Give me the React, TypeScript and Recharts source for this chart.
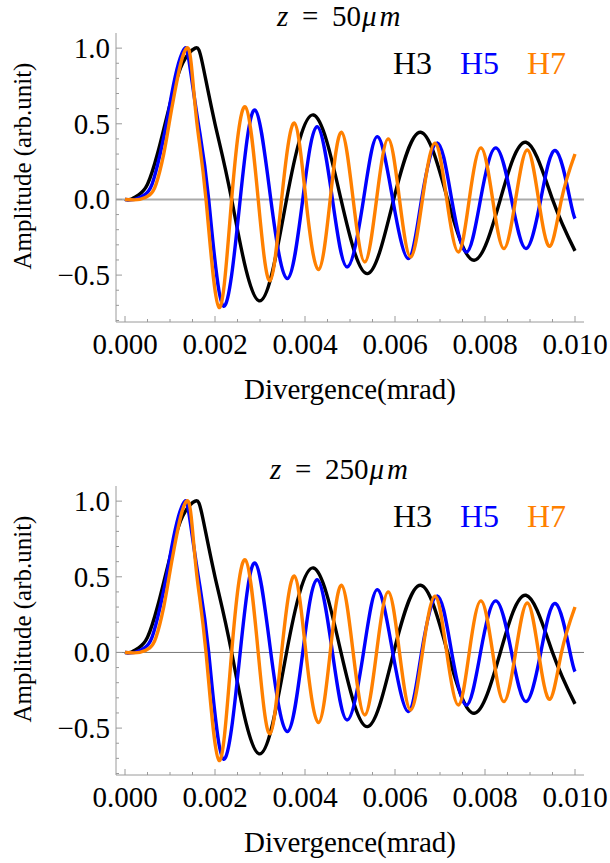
import React from 'react'
import { LineChart, Line, XAxis, YAxis, ReferenceLine } from 'recharts'

// values: extrema, zero crossings and a few points around the first peak
const h3Div = [0, 0.00012, 0.0003, 0.0005, 0.00072, 0.00089, 0.00106, 0.00128, 0.00156, 0.00172, 0.002, 0.00237, 0.00298, 0.00359, 0.00419, 0.0048, 0.00539, 0.00597, 0.00657, 0.00717, 0.00776, 0.00834, 0.00891, 0.0095, 0.01]
const h3Amp = [0, 0, 0.03, 0.1, 0.3, 0.5, 0.7, 0.9, 1.0, 0.9, 0.5, 0, -0.67, 0, 0.558, 0, -0.49, 0, 0.444, 0, -0.402, 0, 0.378, 0, -0.34]

const h5Div = [0, 0.00022, 0.00043, 0.0006, 0.00078, 0.00092, 0.00104, 0.00119, 0.00133, 0.00143, 0.00163, 0.00186, 0.00219, 0.00256, 0.00289, 0.00324, 0.00361, 0.00395, 0.00427, 0.00461, 0.00494, 0.0053, 0.00561, 0.00595, 0.0063, 0.00659, 0.00694, 0.00726, 0.00759, 0.0079, 0.00824, 0.00859, 0.00891, 0.00924, 0.00957, 0.00989, 0.01]
const h5Amp = [0, 0, 0.03, 0.1, 0.3, 0.5, 0.7, 0.9, 1.0, 0.9, 0.5, 0, -0.705, 0, 0.591, 0, -0.523, 0, 0.481, 0, -0.446, 0, 0.415, 0, -0.391, 0, 0.374, 0, -0.347, 0, 0.341, 0, -0.325, 0, 0.323, 0, -0.127]

const h7Div = [0, 0.00033, 0.00055, 0.00069, 0.00086, 0.00098, 0.0011, 0.00124, 0.00137, 0.00147, 0.0016, 0.0018, 0.00209, 0.00237, 0.00267, 0.00296, 0.00322, 0.00348, 0.00376, 0.00402, 0.0043, 0.00456, 0.00481, 0.00507, 0.00533, 0.00559, 0.00585, 0.0061, 0.00635, 0.00661, 0.00689, 0.00715, 0.00741, 0.00765, 0.00791, 0.00817, 0.00842, 0.00868, 0.00894, 0.00919, 0.00944, 0.0097, 0.01]
const h7Amp = [0, 0, 0.03, 0.1, 0.3, 0.5, 0.7, 0.9, 1.0, 0.9, 0.5, 0, -0.714, 0, 0.613, 0, -0.538, 0, 0.505, 0, -0.464, 0, 0.444, 0, -0.413, 0, 0.4, 0, -0.38, 0, 0.371, 0, -0.347, 0, 0.341, 0, -0.325, 0, 0.327, 0, -0.31, 0, 0.3]

const seriesNames = ['H3', 'H5', 'H7']
const seriesColors = ['#000000', '#0000ff', '#ff8000']

const xTicks = [0, 0.0005, 0.001, 0.0015, 0.002, 0.0025, 0.003, 0.0035, 0.004, 0.0045, 0.005, 0.0055, 0.006, 0.0065, 0.007, 0.0075, 0.008, 0.0085, 0.009, 0.0095, 0.01]
const yTicks = [-0.8, -0.7, -0.6, -0.5, -0.4, -0.3, -0.2, -0.1, 0, 0.1, 0.2, 0.3, 0.4, 0.5, 0.6, 0.7, 0.8, 0.9, 1.0]

const panelDistances = ['50', '250']

const FONT = '"Liberation Serif", "Times New Roman", serif'
const FRAME = '#9a9a9a'

const zip = (xs: number[], ys: number[]) => xs.map((x, i) => ({ x, y: ys[i] }))
const seriesData = [zip(h3Div, h3Amp), zip(h5Div, h5Amp), zip(h7Div, h7Amp)]

const isStep = (v: number, step: number) => {
  const r = v / step
  return Math.abs(r - Math.round(r)) < 1e-6
}

const fmtY = (v: number) => (v < 0 ? '\u2212' + Math.abs(v).toFixed(1) : v.toFixed(1))

const BottomTick = (props: any) => {
  const { x, y, payload } = props
  const major = isStep(payload.value, 0.002)
  return (
    <g>
      <line x1={x} y1={y} x2={x} y2={y - (major ? 6 : 3)} stroke={FRAME} />
      {major && (
        <text x={x} y={y + 32} textAnchor="middle" fontSize={29} fontFamily={FONT} fill="#000">
          {payload.value.toFixed(3)}
        </text>
      )}
    </g>
  )
}

const TopTick = (props: any) => {
  const { x, y, payload } = props
  const major = isStep(payload.value, 0.002)
  return <line x1={x} y1={y} x2={x} y2={y + (major ? 6 : 3)} stroke={FRAME} />
}

const LeftTick = (props: any) => {
  const { x, y, payload } = props
  const major = isStep(payload.value, 0.5)
  return (
    <g>
      <line x1={x} y1={y} x2={x + (major ? 6 : 3)} y2={y} stroke={FRAME} />
      {major && (
        <text x={x - 6} y={y + 10} textAnchor="end" fontSize={29} fontFamily={FONT} fill="#000">
          {fmtY(payload.value)}
        </text>
      )}
    </g>
  )
}

const RightTick = (props: any) => {
  const { x, y, payload } = props
  const major = isStep(payload.value, 0.5)
  return <line x1={x} y1={y} x2={x - (major ? 6 : 3)} y2={y} stroke={FRAME} />
}

function Panel({ top, height, dist, titleX, zeroColor, zeroWidth }: any) {
  const plotTop = 33
  const plotBottom = plotTop + 289
  const digitsW = dist.length * 14.5
  return (
    <div style={{ position: 'absolute', left: 0, top, width: 610, height }}>
      <LineChart width={610} height={height} margin={{ top: plotTop, right: 26, bottom: 0, left: 0 }}>
        <XAxis
          dataKey="x"
          type="number"
          domain={[-0.0002, 0.0102]}
          ticks={xTicks}
          interval={0}
          allowDataOverflow
          height={height - plotBottom}
          tick={BottomTick}
          tickSize={0}
          tickMargin={0}
          tickLine={false}
          axisLine={{ stroke: FRAME }}
        />
        <XAxis
          xAxisId="top"
          orientation="top"
          type="number"
          domain={[-0.0002, 0.0102]}
          ticks={xTicks}
          interval={0}
          allowDataOverflow
          height={0}
          tick={TopTick}
          tickSize={0}
          tickMargin={0}
          tickLine={false}
          axisLine={{ stroke: FRAME }}
        />
        <YAxis
          type="number"
          domain={[-0.81, 1.1]}
          ticks={yTicks}
          interval={0}
          allowDataOverflow
          width={116}
          tick={LeftTick}
          tickSize={0}
          tickMargin={0}
          tickLine={false}
          axisLine={{ stroke: FRAME }}
        />
        <YAxis
          yAxisId="right"
          orientation="right"
          type="number"
          domain={[-0.81, 1.1]}
          ticks={yTicks}
          interval={0}
          allowDataOverflow
          width={0}
          tick={RightTick}
          tickSize={0}
          tickMargin={0}
          tickLine={false}
          axisLine={{ stroke: FRAME }}
        />
        <ReferenceLine y={0} stroke={zeroColor} strokeWidth={zeroWidth} />
        {seriesData.map((d, i) => (
          <Line
            key={seriesNames[i]}
            data={d}
            dataKey="y"
            name={seriesNames[i]}
            type="natural"
            stroke={seriesColors[i]}
            strokeWidth={3.4}
            dot={false}
            activeDot={false}
            isAnimationActive={false}
          />
        ))}
      </LineChart>
      <svg width={610} height={height} style={{ position: 'absolute', left: 0, top: 0, pointerEvents: 'none', overflow: 'visible' }}>
        <text y={26} fontSize={29} fontFamily={FONT} fill="#000">
          <tspan x={titleX} fontStyle="italic">z</tspan>
          <tspan x={titleX + 25}>=</tspan>
          <tspan x={titleX + 55}>{dist}</tspan>
          <tspan x={titleX + 56 + digitsW} fontStyle="italic" letterSpacing={3}>μm</tspan>
        </text>
        {seriesNames.map((n, i) => (
          <text key={n} x={393 + i * 67} y={74} fontSize={32} fontFamily={FONT} fill={seriesColors[i]}>
            {n}
          </text>
        ))}
        <text x={350} y={plotBottom + 77} textAnchor="middle" fontSize={29} fontFamily={FONT} fill="#000">
          Divergence(mrad)
        </text>
        <text
          x={31}
          y={166}
          transform="rotate(-90, 31, 166)"
          textAnchor="middle"
          fontSize={25}
          fontFamily={FONT}
          fill="#000"
        >
          Amplitude (arb.unit)
        </text>
      </svg>
    </div>
  )
}

export default function App() {
  return (
    <div style={{ position: 'absolute', left: 0, top: 0, width: 610, height: 863, background: '#fff', overflow: 'hidden' }}>
      <Panel top={0} height={430} dist={panelDistances[0]} titleX={277} zeroColor="#aaaaaa" zeroWidth={2} />
      <Panel top={453} height={410} dist={panelDistances[1]} titleX={270} zeroColor="#777777" zeroWidth={1} />
    </div>
  )
}
